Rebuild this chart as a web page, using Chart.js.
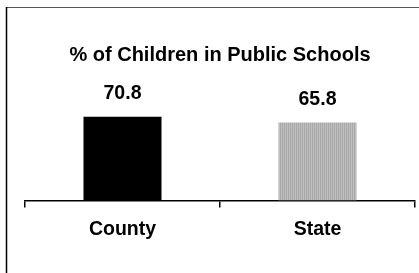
<!DOCTYPE html>
<html>
<head>
<meta charset="utf-8">
<script src="https://cdn.jsdelivr.net/npm/chart.js@4/dist/chart.umd.min.js"></script>
<style>
  html, body { margin: 0; padding: 0; background: #fff; }
  #wrap { width: 419px; height: 273px; position: relative; }
</style>
</head>
<body>
<div id="wrap"><canvas id="c" width="419" height="273"></canvas></div>
<script>
const categories = ["County", "State"];
const values = [70.8, 65.8];
const valueLabels = ["70.8", "65.8"];
const chartTitle = "% of Children in Public Schools";

const FONT = 'Arial, "Liberation Sans", sans-serif';

function stripePattern() {
  const c = document.createElement('canvas');
  c.width = 2; c.height = 1;
  const x = c.getContext('2d');
  x.fillStyle = '#a9a9a9'; x.fillRect(0, 0, 1, 1);
  x.fillStyle = '#bfbfbf'; x.fillRect(1, 0, 1, 1);
  return x.createPattern(c, 'repeat');
}

const framePlugin = {
  id: 'frame',
  beforeDraw(chart) {
    const ctx = chart.ctx;
    ctx.save();
    ctx.fillStyle = '#fff';
    ctx.fillRect(0, 0, chart.width, chart.height);
    ctx.strokeStyle = '#555';
    ctx.lineWidth = 1;
    ctx.beginPath();
    ctx.moveTo(6, 7.5); ctx.lineTo(chart.width, 7.5);
    ctx.stroke();
    ctx.strokeStyle = '#000';
    ctx.lineWidth = 1.5;
    ctx.beginPath();
    ctx.moveTo(6.5, 7); ctx.lineTo(6.5, chart.height);
    ctx.stroke();
    ctx.restore();
  }
};

const valueLabelPlugin = {
  id: 'valueLabels',
  afterDatasetsDraw(chart) {
    const ctx = chart.ctx;
    const meta = chart.getDatasetMeta(0);
    ctx.save();
    ctx.fillStyle = '#000';
    ctx.font = 'bold 19.5px ' + FONT;
    ctx.textAlign = 'center';
    ctx.textBaseline = 'middle';
    meta.data.forEach((bar, i) => {
      ctx.fillText(valueLabels[i], bar.x, bar.y - 23);
    });
    ctx.restore();
  }
};

new Chart(document.getElementById('c'), {
  type: 'bar',
  data: {
    labels: categories,
    datasets: [{
      data: values,
      backgroundColor: ['#000000', stripePattern()],
      borderWidth: 0,
      barPercentage: 0.4,
      categoryPercentage: 1.0
    }]
  },
  options: {
    responsive: false,
    animation: false,
    devicePixelRatio: 1,
    layout: { padding: { left: 25, right: 4, top: 0, bottom: 22 } },
    plugins: {
      legend: { display: false },
      tooltip: { enabled: false },
      title: {
        display: true,
        text: chartTitle,
        color: '#000',
        font: { family: FONT, size: 20, weight: 'bold' },
        padding: { top: 43, bottom: 15 }
      }
    },
    scales: {
      x: {
        grid: { display: true, drawOnChartArea: false, drawTicks: true, tickLength: 7, color: '#000', lineWidth: 1.5, offset: true },
        border: { display: true, color: '#000', width: 1.5 },
        ticks: { color: '#000', font: { family: FONT, size: 19.5, weight: 'bold' }, padding: 10 }
      },
      y: {
        display: false,
        min: 0,
        max: 100
      }
    }
  },
  plugins: [framePlugin, valueLabelPlugin]
});
</script>
</body>
</html>
